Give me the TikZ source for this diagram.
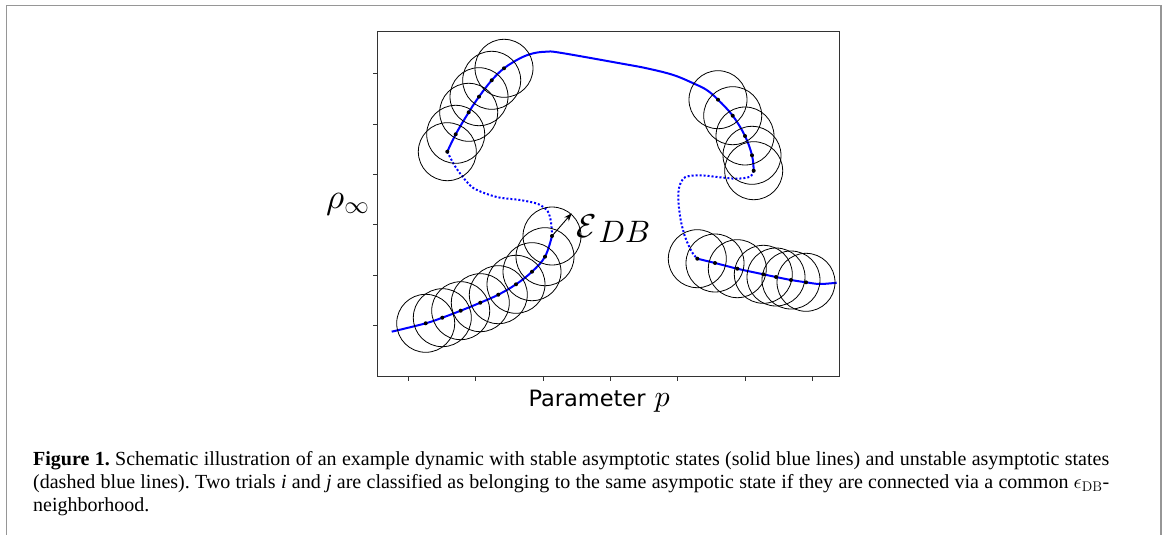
\documentclass[tikz,border=0pt]{standalone}
\usepackage{fontspec}
\newfontfamily\capfont{Liberation Serif}
\newfontfamily\axfont{DejaVu Sans}
\DeclareFontShape{OML}{cmm}{m}{it}{<->cmmi10}{}
\DeclareFontShape{OMS}{cmsy}{m}{n}{<->cmsy10}{}
\usetikzlibrary{arrows.meta}
\definecolor{pyblue}{RGB}{0,0,255}
\definecolor{framegray}{RGB}{150,150,150}

\begin{document}
\begin{tikzpicture}[x=1pt, y=-1pt,
  ball/.style={draw=black, line width=0.8pt},
  pt/.style={fill=black},
  stab/.style={draw=pyblue, line width=2pt},
  unstab/.style={draw=pyblue, line width=2pt, dash pattern=on 2pt off 2pt},
  arr/.style={-{Stealth[length=8pt, width=6pt]}, line width=0.9pt},
  tk/.style={line width=0.8pt, black!80},
  lbl/.style={inner sep=0pt, anchor=base west},
  capt/.style={inner sep=0pt, anchor=base west, text width=1076pt, align=justify,
    font=\capfont\frenchspacing\fontsize{20}{23.3}\selectfont},
]
\useasboundingbox (0,0) rectangle (1168,535);
% page frame
\draw[framegray, line width=1.3pt] (6.3,535) -- (6.3,5.3) -- (1161,5.3) -- (1161,535);

% axes and ticks
\draw[tk] (377,31.7) rectangle (839,376);
\foreach \y in {73.3,124,174,224.7,275.3,325.3}
  \draw[tk] (377,\y) -- (372.5,\y);
\foreach \x in {408.3,475.7,543,610.3,677.7,745,812.3}
  \draw[tk] (\x,376) -- (\x,380.5);

% unstable branches
\draw[unstab] plot[smooth] coordinates {(447.3,151.7) (453.3,163.3) (460,173.3)
  (473.3,188) (496.7,197) (520,200) (538,204) (547.5,211) (551,222) (552,236)};
\draw[unstab] plot[smooth] coordinates {(753.7,170.7) (750,176.7) (736.7,178.7)
  (720,177.3) (700,175.3) (685,177.3) (679.3,186.7) (678.3,200) (680.7,220)
  (685,236.7) (691.7,251.7) (697.3,258.7)};

% stable branches
\draw[stab] plot[smooth, tension=0.6] coordinates {(447.3,151.7) (455.7,134.3)
  (468.7,112.3) (479,96.7) (491.7,80.3) (504,68.3) (520,58.3) (533.3,53.3)
  (546.7,51.7) (560,52.7) (620,63.3) (646.7,68.3) (673.3,75) (693.3,83.3)
  (706.7,90) (718,99.7) (732.7,115.7) (745,136) (752,155.3) (753.7,170.7)};
\draw[stab] plot[smooth, tension=0.6] coordinates {(391.7,331.7) (425.7,323.3)
  (442.3,317.7) (460.7,310.7) (480.3,302.7) (498.3,294.7) (516,284.3)
  (532,271.7) (545,256.7) (552,236)};
\draw[stab] plot[smooth, tension=0.6] coordinates {(697.3,258.7) (715,263)
  (737.3,268.7) (763.3,274.3) (776,277) (791,280) (806,282.3) (820,284)
  (836.7,282.7)};

% neighbourhoods of the trials
\foreach \p in {(447.3,151.7),(455.7,134.3),(468.7,112.3),(479,96.7),(491.7,80.3),(504,68.3),
  (718,99.7),(732.7,115.7),(745,136),(752,155.3),(753.7,170.7),
  (552,236),(545,256.7),(532,271.7),(516,284.3),(498.3,294.7),(480.3,302.7),(460.7,310.7),(442.3,317.7),(425.7,323.3),
  (697.3,258.7),(715,263),(737.3,268.7),(763.3,274.3),(776,277),(791,280),(806,282.3)}
{
  \draw[ball] \p circle[radius=29pt];
  \fill[pt] \p circle[radius=2pt];
}

% radius arrow
\coordinate (b1) at (552,236);
\coordinate (rtip) at (571.7,213.3);
\draw[arr] (b1) -- (rtip);
\node[lbl] (eps) at (576,237) {\fontsize{33}{33}\selectfont$\mathcal{E}$\kern2pt\raisebox{-5pt}{\fontsize{31}{31}\selectfont$DB$}};

% axis labels
\node[lbl] (rho) at (326,208) {\fontsize{35}{35}\selectfont$\rho_\infty$};
\node[lbl] (xlab) at (528.3,406.7) {\axfont\fontsize{22.5}{22.5}\selectfont Parameter\kern9pt{\fontsize{30}{30}\selectfont$p$}};

% caption
\node[capt] (cap) at (33,465) {\textbf{Figure 1.} Schematic illustration of an example dynamic with stable asymptotic states (solid blue lines) and unstable asymptotic states\linebreak
(dashed blue lines). Two trials \textit{i} and \textit{j} are classified as belonging to the same asympotic state if they are connected via a common $\epsilon_{\mathrm{DB}}$-\linebreak
neighborhood.};
\end{tikzpicture}
\end{document}
